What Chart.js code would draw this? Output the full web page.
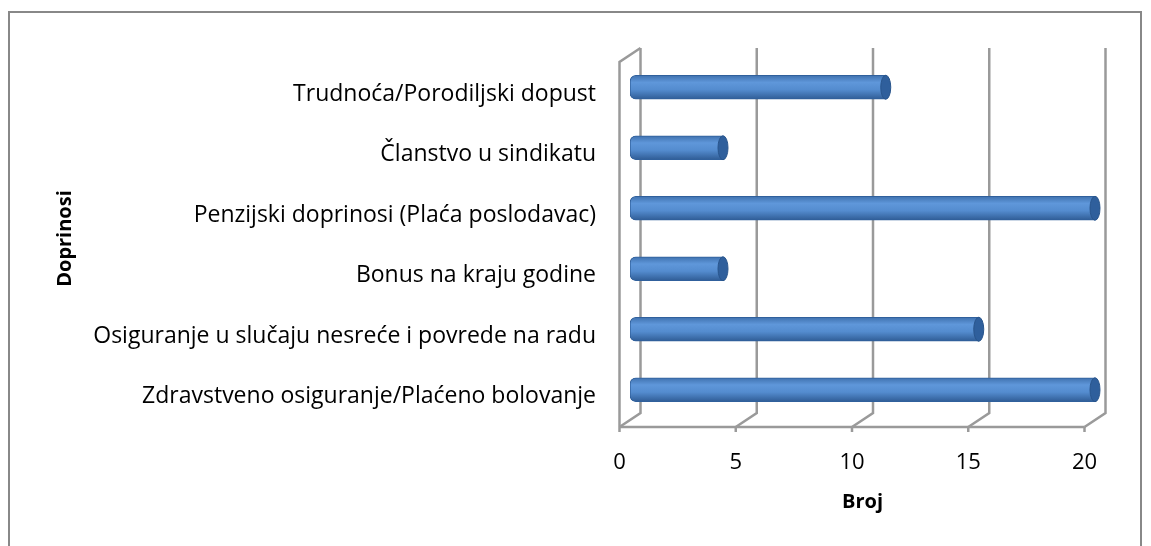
<!DOCTYPE html>
<html>
<head>
<meta charset="utf-8">
<script src="https://cdn.jsdelivr.net/npm/chart.js@4.4.0/dist/chart.umd.min.js"></script>
<style>
body{margin:0;background:#fff}
#wrap{position:relative;width:1151px;height:546px;overflow:hidden}
#frame{position:absolute;left:8px;top:11px;width:1134px;height:600px;border:2px solid #888;box-sizing:border-box}
canvas{position:absolute;left:0;top:0}
</style>
</head>
<body>
<div id="wrap">
  <div id="frame"></div>
  <canvas id="chart" width="1151" height="546"></canvas>
</div>
<script>
var categories = [
  'Trudnoća/Porodiljski dopust',
  'Članstvo u sindikatu',
  'Penzijski doprinosi (Plaća poslodavac)',
  'Bonus na kraju godine',
  'Osiguranje u slučaju nesreće i povrede na radu',
  'Zdravstveno osiguranje/Plaćeno bolovanje'
]
var values = [11, 4, 20, 4, 15, 20]
var tickValues = [0, 5, 10, 15, 20]

var font = '"Open Sans", Lato, sans-serif'
var depthX = 21, depthY = 14

// 3d-ish walls, floor and gridlines, drawn behind the bars
var walls = {
  id: 'walls',
  beforeDatasetsDraw: function(chart) {
    var ctx = chart.ctx
    var sx = chart.scales.x
    var area = chart.chartArea
    var hx = depthX / 2, hy = depthY / 2
    var backTop = area.top - hy - 2
    var backBottom = area.bottom - hy
    var frontBottom = area.bottom + hy
    ctx.save()
    ctx.strokeStyle = '#9a9a9a'
    ctx.lineWidth = 2.5
    ctx.lineCap = 'butt'
    tickValues.forEach(function(v) {
      var px = sx.getPixelForValue(v)
      ctx.beginPath()
      ctx.moveTo(px + hx, backTop)
      ctx.lineTo(px + hx, backBottom)
      ctx.lineTo(px - hx, frontBottom)
      ctx.stroke()
      ctx.beginPath()
      ctx.moveTo(px - hx, frontBottom)
      ctx.lineTo(px - hx, frontBottom + 5)
      ctx.stroke()
    })
    var x0 = sx.getPixelForValue(tickValues[0])
    var xN = sx.getPixelForValue(tickValues[tickValues.length - 1])
    ctx.beginPath()
    ctx.moveTo(x0 - hx, frontBottom)
    ctx.lineTo(xN - hx, frontBottom)
    ctx.stroke()
    ctx.beginPath()
    ctx.moveTo(x0 - hx, frontBottom)
    ctx.lineTo(x0 - hx, backTop + depthY)
    ctx.lineTo(x0 + hx, backTop)
    ctx.stroke()
    ctx.restore()
  },
  afterDatasetsDraw: function(chart) {
    var ctx = chart.ctx
    var meta = chart.getDatasetMeta(0)
    ctx.save()
    meta.data.forEach(function(bar) {
      // darker end cap of the cylinder
      ctx.beginPath()
      ctx.ellipse(bar.x, bar.y, 5, 12, 0, 0, Math.PI * 2)
      ctx.fillStyle = '#2f5f9c'
      ctx.fill()
      ctx.strokeStyle = '#29558c'
      ctx.lineWidth = 1
      ctx.stroke()
    })
    // tick labels at the front edge of the floor
    var sx = chart.scales.x
    ctx.fillStyle = '#000'
    ctx.font = '22px ' + font
    ctx.textAlign = 'center'
    ctx.textBaseline = 'middle'
    tickValues.forEach(function(v) {
      ctx.fillText(String(v), sx.getPixelForValue(v) - depthX / 2, 463)
    })
    ctx.restore()
  }
}

function barFill(context) {
  var chart = context.chart
  if (!chart.chartArea) return '#4f81bd'
  var cy = chart.scales.y.getPixelForValue(context.dataIndex)
  var g = chart.ctx.createLinearGradient(0, cy - 12, 0, cy + 12)
  g.addColorStop(0, '#3f71ae')
  g.addColorStop(0.3, '#5f97da')
  g.addColorStop(0.6, '#548ccf')
  g.addColorStop(1, '#2f5c95')
  return g
}

new Chart(document.getElementById('chart'), {
  type: 'bar',
  data: {
    labels: categories,
    datasets: [{
      data: values,
      backgroundColor: barFill,
      borderColor: '#30609c',
      borderWidth: 1,
      borderSkipped: false,
      borderRadius: { topLeft: 6, bottomLeft: 6, topRight: 0, bottomRight: 0 },
      barThickness: 24
    }]
  },
  options: {
    indexAxis: 'y',
    responsive: false,
    animation: false,
    layout: { padding: { left: 0, right: 56, top: 57, bottom: 0 } },
    plugins: { legend: { display: false }, tooltip: { enabled: false } },
    scales: {
      x: {
        min: 0,
        max: 20,
        ticks: { display: false, stepSize: 5 },
        grid: { display: false },
        border: { display: false },
        title: { display: true, text: 'Broj', color: '#000', font: { family: font, size: 20, weight: 'bold' }, padding: { top: 0, bottom: 32 } },
        afterFit: function(scale) { scale.height = 126 }
      },
      y: {
        ticks: { color: '#000', font: { family: font, size: 23 }, padding: 34, labelOffset: 7 },
        grid: { display: false, drawTicks: false },
        border: { display: false },
        title: { display: true, text: 'Doprinosi', color: '#000', font: { family: font, size: 20, weight: 'bold' }, padding: { top: 53, bottom: 0 } },
        afterFit: function(scale) { scale.width = 630 }
      }
    }
  },
  plugins: [walls]
})
</script>
</body>
</html>
